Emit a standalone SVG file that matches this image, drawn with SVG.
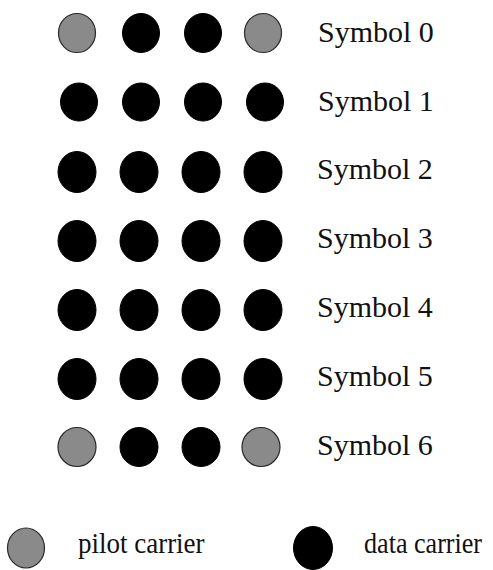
<svg xmlns="http://www.w3.org/2000/svg" width="493" height="570" viewBox="0 0 493 570">
<style>
.pilot{fill:#8a8a8a;stroke:#2a2a2a;stroke-width:1.2}
.data{fill:#000;stroke:#000;stroke-width:1}
.lbl{font-family:"Liberation Serif","Times New Roman",serif;font-size:30px;fill:#111}
.leg{font-family:"Liberation Serif","Times New Roman",serif;font-size:30px;fill:#111}
</style>
<rect width="493" height="570" fill="#fff"/>
<g id="row0">
<ellipse class="pilot" cx="77" cy="33" rx="18.5" ry="19.5"/>
<ellipse class="data" cx="141" cy="33" rx="18.5" ry="19.5"/>
<ellipse class="data" cx="203" cy="33" rx="18.5" ry="19.5"/>
<ellipse class="pilot" cx="263" cy="33" rx="18.5" ry="19.5"/>
<text class="lbl" x="318" y="42">Symbol 0</text>
</g>
<g id="row1">
<ellipse class="data" cx="79" cy="102" rx="18.5" ry="19"/>
<ellipse class="data" cx="141" cy="102" rx="18.5" ry="19"/>
<ellipse class="data" cx="203" cy="102" rx="18.5" ry="19"/>
<ellipse class="data" cx="265" cy="102" rx="18.5" ry="19"/>
<text class="lbl" x="318" y="111">Symbol 1</text>
</g>
<g id="row2">
<ellipse class="data" cx="77" cy="172" rx="19" ry="20.5"/>
<ellipse class="data" cx="139" cy="172" rx="19" ry="20.5"/>
<ellipse class="data" cx="201" cy="172" rx="19" ry="20.5"/>
<ellipse class="data" cx="263" cy="172" rx="19" ry="20.5"/>
<text class="lbl" x="317" y="179">Symbol 2</text>
</g>
<g id="row3">
<ellipse class="data" cx="77" cy="241" rx="19" ry="20.5"/>
<ellipse class="data" cx="139" cy="241" rx="19" ry="20.5"/>
<ellipse class="data" cx="201" cy="241" rx="19" ry="20.5"/>
<ellipse class="data" cx="263" cy="241" rx="19" ry="20.5"/>
<text class="lbl" x="317" y="248">Symbol 3</text>
</g>
<g id="row4">
<ellipse class="data" cx="77" cy="310" rx="19" ry="20.5"/>
<ellipse class="data" cx="139" cy="310" rx="19" ry="20.5"/>
<ellipse class="data" cx="201" cy="310" rx="19" ry="20.5"/>
<ellipse class="data" cx="263" cy="310" rx="19" ry="20.5"/>
<text class="lbl" x="317" y="317">Symbol 4</text>
</g>
<g id="row5">
<ellipse class="data" cx="77" cy="379" rx="19" ry="20.5"/>
<ellipse class="data" cx="139" cy="379" rx="19" ry="20.5"/>
<ellipse class="data" cx="201" cy="379" rx="19" ry="20.5"/>
<ellipse class="data" cx="263" cy="379" rx="19" ry="20.5"/>
<text class="lbl" x="317" y="386">Symbol 5</text>
</g>
<g id="row6">
<ellipse class="pilot" cx="77" cy="447" rx="19" ry="19.5"/>
<ellipse class="data" cx="139" cy="447" rx="19" ry="19.5"/>
<ellipse class="data" cx="201" cy="447" rx="19" ry="19.5"/>
<ellipse class="pilot" cx="261" cy="447" rx="19" ry="19.5"/>
<text class="lbl" x="317" y="455">Symbol 6</text>
</g>
<g id="legend-pilot">
<ellipse class="pilot" cx="26" cy="548" rx="18.5" ry="20"/>
<text class="leg" transform="translate(78,553) scale(0.9,1)" x="0" y="0">pilot carrier</text>
</g>
<g id="legend-data">
<ellipse class="data" cx="313" cy="548" rx="19.5" ry="21.5"/>
<text class="leg" transform="translate(364,553) scale(0.87,1)" x="0" y="0">data carrier</text>
</g>
<g id="connectors"/>
</svg>
